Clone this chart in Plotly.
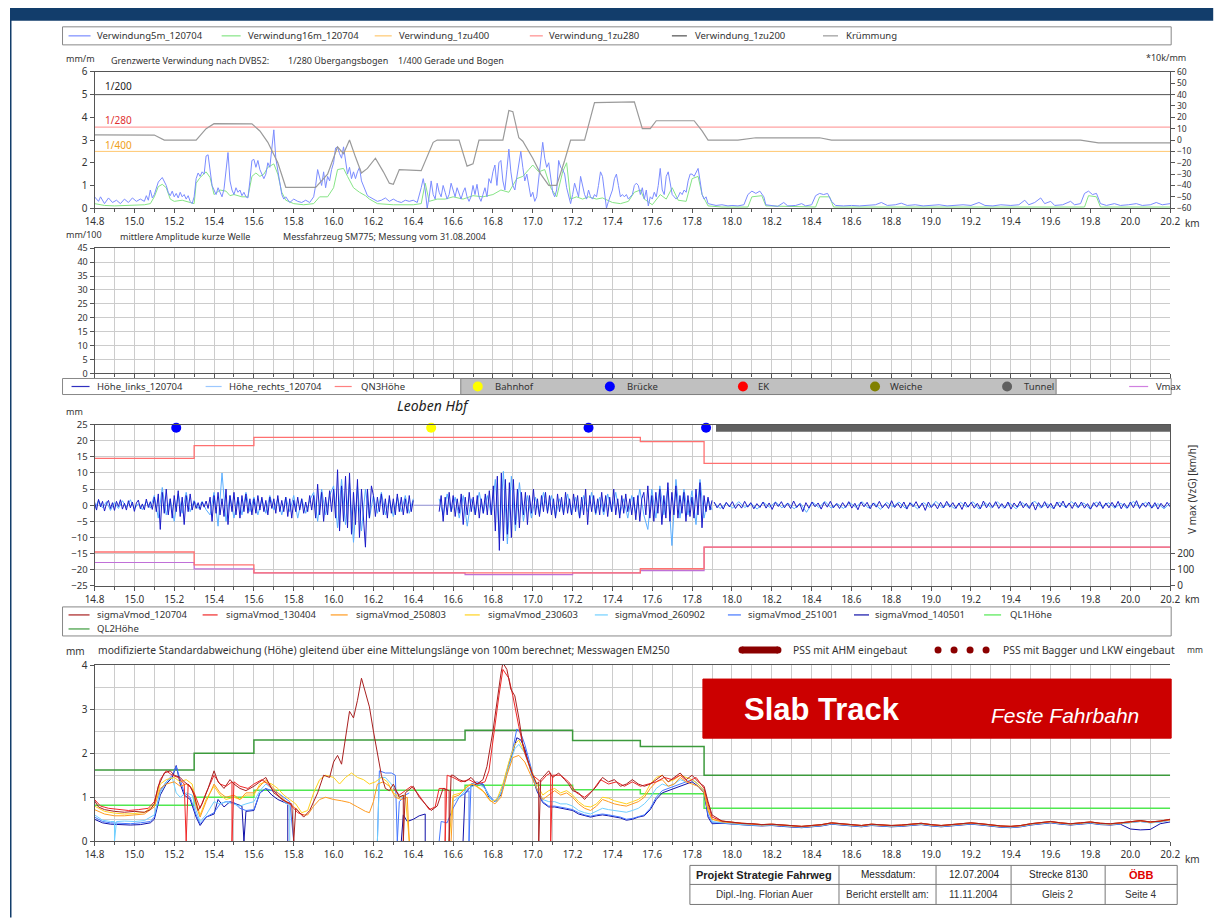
import plotly.graph_objects as go

# Page is shown with a small frame: picture = 0.983 * page + (9.5, 7.2). Positions below are
# given in picture pixels of the reference and mapped back to page pixels.
W, H = 1218, 923
SC, BX, BY = 0.983, 9.5, 7.2
def px(x): return ((x - BX) / SC) / W
def py(y): return 1 - ((y - BY) / SC) / H

FONT = "Noto Sans, DejaVu Sans, sans-serif"
ARIAL = "Liberation Sans, Arial, sans-serif"
AX = "#555555"
GRID = "#CCCCCC"
TXT = "#333333"

# ---------------- DATA ----------------
# Panel 1: Verwindung (mm/m) and Kruemmung (right axis)
V5_PTS = [(14.80,0.5),(14.82,0.3),(14.83,0.5),(14.85,0.2),(14.87,0.45),(14.89,0.25),(14.91,0.35),(14.93,0.2),(14.95,0.4),(14.97,0.25),
(14.99,0.45),(15.01,0.3),(15.03,0.4),(15.05,0.3),(15.06,0.55),(15.07,0.35),(15.08,0.8),(15.09,0.45),(15.10,0.6),(15.11,0.9),
(15.12,1.15),(15.14,1.35),(15.15,1.2),(15.16,1.0),(15.17,0.7),(15.18,0.55),(15.19,0.75),(15.20,0.5),(15.21,0.65),(15.22,0.45),
(15.23,0.7),(15.24,0.5),(15.25,0.6),(15.26,0.4),(15.27,0.55),(15.28,0.3),(15.29,0.2),(15.30,0.5),(15.31,1.3),(15.32,1.55),
(15.33,1.4),(15.34,1.6),(15.35,1.5),(15.36,2.3),(15.37,2.35),(15.38,1.6),(15.39,1.0),(15.40,0.8),(15.41,0.6),(15.42,0.9),
(15.43,0.7),(15.44,0.5),(15.45,0.85),(15.46,1.8),(15.47,2.45),(15.48,1.2),(15.49,0.8),(15.50,0.6),(15.51,0.9),(15.52,0.7),
(15.53,0.8),(15.54,0.55),(15.55,0.7),(15.56,0.5),(15.57,0.45),(15.58,1.2),(15.59,2.1),(15.60,2.15),(15.61,1.8),(15.62,2.1),
(15.63,1.7),(15.64,1.5),(15.65,1.3),(15.66,1.5),(15.67,2.0),(15.68,1.8),(15.69,2.6),(15.70,3.45),(15.71,2.2),(15.72,1.6),
(15.73,1.0),(15.74,0.6),(15.75,0.4),(15.76,0.5),(15.78,0.25),(15.80,0.4),(15.82,0.3),(15.84,0.25),(15.86,0.35),(15.88,0.25),
(15.90,0.5),(15.91,1.0),(15.92,1.7),(15.93,1.3),(15.94,1.0),(15.95,1.6),(15.96,0.9),(15.97,1.4),(15.98,1.2),(15.99,1.7),
(16.00,2.0),(16.01,2.65),(16.02,2.7),(16.03,2.4),(16.04,2.2),(16.05,2.7),(16.06,2.0),(16.07,1.5),(16.08,1.8),(16.09,1.3),
(16.10,1.6),(16.11,1.3),(16.12,1.6),(16.13,1.8),(16.14,1.2),(16.15,1.0),(16.16,0.8),(16.17,0.55),(16.18,0.5),(16.20,0.4),
(16.22,0.3),(16.24,0.35),(16.26,0.45),(16.28,0.3),(16.30,0.4),(16.32,0.3),(16.34,0.25),(16.36,0.35),(16.38,0.3),(16.40,0.35),
(16.42,0.25),(16.44,0.9),(16.45,1.3),(16.46,0.8),(16.47,0.0),(16.48,0.5),(16.49,1.2),(16.50,0.6),(16.51,0.4),(16.52,1.1),
(16.53,0.7),(16.54,0.5),(16.55,1.0),(16.56,0.7),(16.57,0.4),(16.58,0.6),(16.59,1.1),(16.60,0.8),(16.61,0.5),(16.62,0.9),
(16.63,0.6),(16.64,0.4),(16.65,0.7),(16.66,0.9),(16.67,0.5),(16.68,0.3),(16.69,0.5),(16.70,1.0),(16.71,0.6),(16.72,1.05),
(16.73,0.5),(16.74,0.3),(16.75,0.6),(16.76,0.9),(16.77,0.5),(16.78,1.3),(16.79,1.1),(16.80,1.6),(16.81,1.9),(16.82,1.0),
(16.83,2.0),(16.84,2.1),(16.85,1.2),(16.86,0.8),(16.87,1.7),(16.88,2.6),(16.89,1.6),(16.90,1.0),(16.91,0.8),(16.92,1.4),
(16.93,1.9),(16.94,2.5),(16.95,1.8),(16.96,1.2),(16.97,1.5),(16.98,0.9),(16.99,0.5),(17.00,0.7),(17.01,0.3),(17.02,0.5),
(17.03,1.3),(17.04,2.0),(17.05,2.9),(17.06,2.2),(17.07,1.8),(17.08,2.0),(17.09,1.2),(17.10,0.7),(17.11,0.5),(17.12,0.8),
(17.13,2.1),(17.14,1.8),(17.15,1.7),(17.16,1.5),(17.17,0.9),(17.18,0.5),(17.19,0.2),(17.20,0.6),(17.21,1.1),(17.22,0.8),
(17.23,0.5),(17.24,1.4),(17.25,1.0),(17.26,0.6),(17.27,0.4),(17.28,0.8),(17.29,0.5),(17.30,0.4),(17.31,0.6),(17.32,0.5),
(17.33,1.0),(17.34,1.6),(17.35,1.4),(17.36,0.7),(17.37,0.0),(17.38,0.3),(17.39,0.6),(17.40,0.8),(17.41,1.3),(17.42,1.5),
(17.43,1.0),(17.44,0.5),(17.45,0.6),(17.46,0.5),(17.47,0.6),(17.48,0.4),(17.50,0.6),(17.51,1.0),(17.52,1.1),(17.53,1.0),
(17.54,0.6),(17.55,0.9),(17.56,0.4),(17.57,0.8),(17.58,0.1),(17.59,0.5),(17.60,0.4),(17.61,0.7),(17.62,0.5),(17.63,1.0),
(17.64,1.75),(17.65,0.8),(17.66,0.6),(17.67,1.4),(17.68,1.6),(17.69,1.1),(17.70,0.6),(17.71,0.5),(17.72,0.4),(17.73,0.5),
(17.74,0.7),(17.75,0.6),(17.76,0.8),(17.77,0.7),(17.78,1.2),(17.79,1.5),(17.80,1.5),(17.81,1.4),(17.82,1.6),(17.83,1.75),
(17.84,1.2),(17.85,0.6),(17.86,0.4),(17.87,0.5),(17.88,0.2),(17.90,0.15),
(17.92,0.12),(17.95,0.15),(17.98,0.1),(18.00,0.12),(18.03,0.1),(18.06,0.15),(18.08,0.6),(18.10,0.75),(18.12,0.65),(18.14,0.75),
(18.16,0.5),(18.17,0.15),(18.20,0.1),(18.23,0.08),(18.26,0.25),(18.28,0.1),(18.32,0.12),(18.35,0.2),(18.37,0.1),(18.40,0.15),
(18.42,0.55),(18.44,0.65),(18.46,0.6),(18.48,0.65),(18.50,0.3),(18.52,0.12),(18.56,0.1),(18.60,0.12),(18.64,0.1),(18.68,0.12),
(18.72,0.15),(18.75,0.25),(18.78,0.12),(18.82,0.15),(18.85,0.22),(18.88,0.12),(18.92,0.15),(18.96,0.1),(19.00,0.12),(19.04,0.15),
(19.08,0.1),(19.12,0.12),(19.16,0.15),(19.20,0.12),(19.24,0.25),(19.27,0.12),(19.31,0.1),(19.35,0.15),(19.40,0.12),(19.44,0.15),
(19.47,0.35),(19.49,0.15),(19.52,0.25),(19.55,0.45),(19.57,0.2),(19.60,0.3),(19.62,0.12),(19.66,0.15),(19.70,0.3),(19.72,0.15),
(19.75,0.2),(19.77,0.65),(19.79,0.75),(19.81,0.6),(19.83,0.65),(19.85,0.2),(19.88,0.12),(19.92,0.2),(19.95,0.12),(19.99,0.15),
(20.03,0.2),(20.06,0.12),(20.10,0.15),(20.13,0.25),(20.16,0.15),(20.20,0.2)]

V16_PTS = [(14.80,0.2),(14.85,0.12),(14.90,0.1),(14.95,0.12),(15.00,0.12),(15.05,0.15),(15.08,0.2),(15.10,0.5),(15.12,0.95),(15.14,1.05),
(15.16,0.9),(15.18,0.4),(15.20,0.3),(15.24,0.35),(15.28,0.25),(15.30,0.2),(15.31,1.1),(15.33,1.35),(15.36,1.6),(15.38,1.35),
(15.40,0.6),(15.43,0.8),(15.46,0.75),(15.48,0.55),(15.50,0.6),(15.54,0.5),(15.57,0.5),(15.59,1.4),(15.61,1.55),(15.63,1.4),
(15.65,1.5),(15.67,1.8),(15.70,1.95),(15.72,1.5),(15.74,0.7),(15.76,0.35),(15.80,0.2),(15.85,0.15),(15.90,0.2),(15.93,0.5),
(15.97,0.5),(16.00,0.9),(16.02,1.7),(16.05,1.75),(16.07,1.4),(16.10,0.9),(16.13,0.7),(16.16,0.55),(16.18,0.4),(16.22,0.2),
(16.30,0.15),(16.40,0.15),(16.44,0.2),(16.46,1.1),(16.48,0.3),(16.52,0.4),(16.56,0.4),(16.60,0.5),(16.65,0.4),(16.70,0.55),
(16.75,0.5),(16.80,0.6),(16.84,0.8),(16.88,0.7),(16.92,1.3),(16.95,1.4),(16.98,1.7),(17.00,1.9),(17.03,1.6),(17.06,1.7),
(17.09,0.9),(17.12,0.5),(17.15,1.6),(17.17,2.0),(17.19,0.4),(17.22,0.5),(17.25,0.4),(17.28,0.5),(17.32,0.4),(17.35,0.45),
(17.40,0.25),(17.44,0.2),(17.48,0.3),(17.51,0.7),(17.54,0.8),(17.56,0.4),(17.60,0.15),(17.64,0.6),(17.67,0.4),(17.70,0.9),
(17.73,0.35),(17.77,0.3),(17.80,1.3),(17.83,1.4),(17.85,0.6),(17.88,0.1),(17.95,0.05),(18.08,0.05),(18.10,0.5),(18.15,0.55),
(18.17,0.1),(18.42,0.05),(18.44,0.5),(18.49,0.5),(18.51,0.05),(19.77,0.05),(19.79,0.55),(19.83,0.5),(19.85,0.05),(20.20,0.05)]

KR_PTS = [(14.80,4.5),(15.10,4.4),(15.15,0),(15.31,0),(15.36,10),(15.40,14.4),(15.59,14.2),(15.63,8),(15.67,-2),(15.72,-20),
(15.76,-41.6),(15.91,-41.6),(15.97,-30),(16.02,-6),(16.05,-12),(16.08,0),(16.11,-15),(16.14,-29),(16.17,-25),(16.21,-16),
(16.25,-28),(16.28,-38),(16.30,-39),(16.33,-26),(16.44,-27),(16.50,-2),(16.52,0),(16.63,0),(16.67,-23),(16.70,-21),
(16.73,0),(16.85,0),(16.88,26),(16.90,25),(16.93,2),(16.95,-1),(17.00,-16),(17.04,-30),(17.08,-40),(17.12,-40),
(17.16,-18),(17.19,0),(17.26,0),(17.31,33),(17.51,33.6),(17.55,10),(17.59,10),(17.62,17),(17.81,17),(17.85,8),
(17.88,0),(18.03,0),(18.12,2),(18.44,2),(18.50,0),(19.75,0),(19.84,-2.5),(20.20,-2.5)]

LIM_1ZU400 = 2.5
LIM_1ZU280 = 3.57
LIM_1ZU200 = 5.0

# Panel 3: Hoehe (mm), QN3 limits, Vmax (km/h)
HL_A = [1,-1.5,1.8,-0.5,1.2,-1.8,0.5,1.5,-1,0.8,-1.6,1.2,-0.4,1.7,-1.2,0.6,-1.5,1.4,-0.8,1.0,-1.9,0.7,1.6,-1.1,0.4,-1.4,1.9,-0.7,1.1,-1.3,
2.5,-2,3.5,-7.5,4,-2.5,5,-3,2,-4,3,-2,4.5,-3.5,2.5,-6,3,-2,3.5,-1.5,
1.2,-1,0.8,-1.4,1,-0.6,1.3,-1,
2.5,-5,3,-2.5,4,-3,2,-3.5,5,-6,3,-2,4,-3,2.5,-4,3,-2,3.5,-2.5,2,-3,
2,-2.5,3,-1.5,2.5,-2,1.5,-3,2.5,-1,2,-2.5,3,-2,1.5,-2,2.5,-3.5,2,-4,1.5,-2,2.5,-1.5,2,-2.5,1,-2,3,-1.5,
3,-4,6.5,-3,4,-5,2.5,-3,4.5,-2,
5,-4,11,-8,6,-5,9,-7,10,-9,4,-6,8,-10,5,-3,-13,5,-4,6,
3,-3.5,2.5,-2,3.5,-3,2,-4,3,-2.5,2,-3,3.5,-2,2.5,-3,2,-2.5,3,-2,1.5]
HL_B = [-2,3,-5,2.5,-3,4,-2,3,-3.5,2,-2.5,3.5,-6,2.5,-3,4,-2,2.5,-3,3,-4,2,-2.5,3.5,-3,4.5,-3,
6,-8,9,-14,10,-11,8,-9,7,-10,8,-6,5,-7,4,
-3,4,-6,3,-2.5,5,-3,2,-3.5,3,-2,4,-2.5,3,-3,2,-4,3.5,-2,2.5,-3,4,-2.5,2,-3,3.5,-2,3,-4,2.5,-3,5,-6,3,-2,
3,-2.5,2,-3,4,-2,3,-3.5,2.5,-2,5,-3,2,-4,3,-2.5,3.5,-2,2,-3,2.5,-4.5,3,-5,2,
4,-3,6,-4,3,-5,4,-2.5,5,-6,3,-4,7,-5,4,-3,6,-4,3,-2.5,4,-5,3,-3.5,2.5,-4,5,-3,7,-7,3,-2,2.5,-1.5,1.5]
HL_C = [1.0,-0.8,0.6,-1.2,0.9,-0.5,1.1,-1.0,0.4,-0.9, 1.2,-0.6,0.8,-1.1,0.5,-0.7,1.0,-0.9,0.7,-1.3,
0.9,-0.4,1.1,-0.8,0.6,-1.0,1.3,-0.7,0.5,-2.0, 0.8,-0.9,1.0,-0.5,0.7,-1.2,0.9,-0.6,1.2,-0.8,
0.5,-1.0,0.8,-0.7,1.1,-0.9,0.6,-1.4,1.0,-0.5, 0.9,-1.1,0.7,-0.6,1.2,-0.8,0.5,-1.0,1.4,-0.7,
0.6,-0.9,1.0,-1.2,0.8,-0.5,1.1,-0.9,0.7,-1.6, 1.0,-0.7,0.5,-1.1,0.9,-0.8,1.2,-0.6,0.8,-1.0,
0.7,-1.3,1.0,-0.6,0.9,-0.9,0.6,-1.1,1.3,-0.8, 0.8,-0.7,1.1,-1.0,0.5,-0.9,1.0,-1.2,0.7,-0.6,
1.2,-0.8,0.6,-1.0,0.9,-1.5,0.8,-0.7,1.1,-0.9, 0.6,-1.1,1.0,-0.6,1.3,-0.8,0.7,-1.0,0.9,-0.7,
1.0,-0.9,0.5,-1.2,0.8,-0.6,1.1,-1.0,0.7,-0.8, 0.9,-0.7,1.2,-1.1,0.6,-0.9,1.0,-0.8,1.4,-1.0,
0.7,-0.6,1.0,-0.9,0.8,-1.2,0.6,-0.7,0.9,-0.5]
HR_A = [-1.2,1.5,-0.8,1.1,-1.6,0.9,-1.0,1.4,-0.6,1.7,-1.1,0.5,-1.4,1.2,-0.9,
3,-4,5.5,-3,2,-5,3.5,-2.5,4,-2,
1.5,-1,1.2,-1.4,
-3,4,-6.5,10,-5,3,-4,2.5,-3,4,-2,
2.5,-3,2,-2.5,3,-1.5,2,-3,2.5,-2,3,-4,2,-2.5,1.5,
4,-5,5,-3,3,
6,-7,8,-6,7,-11.5,6,-8,5,-4,
3,-2.5,4,-3,2,-3.5,2.5,-2,3,-2.5,2]
HR_B = [2,-3,3.5,-2,2.5,-4,3,-6.5,2,-3,4,-2.5,3,-3,
8,-10,10.5,-12,9,-8,7,-5,
3,-4,2.5,-3,4,-2,3,-3.5,2,-2.5,3.5,-3,2.5,-4,3,-2,4,-3,
2.5,-3,3.5,-2,4,-3,2,-4,3,-2.5,5,-3,
-7.5,5,-4,6,-3,5.5,-12.5,8,-4,5,-3,4.5,-6,8,-4,2,-1.5]
HR_C = [0.8,-1.0,0.6,-0.9,1.1,-0.7,0.5,-1.2,0.9,-0.6, 1.0,-0.8,0.7,-1.1,0.6,-2.2,0.9,-0.7,1.2,-0.9,
0.5,-1.0,0.8,-0.6,1.1,-0.8,0.7,-1.3,0.9,-0.5, 1.0,-0.9,0.6,-1.1,0.8,-0.7,1.2,-0.8,0.5,-1.0,
0.9,-0.6,1.1,-1.2,0.7,-0.8,1.0,-0.9,0.6,-1.1, 0.8,-0.7,1.3,-0.9,0.5,-1.0,0.9,-0.6,1.1,-0.8,
0.7,-1.2,1.0,-0.5,0.8,-0.9,0.6,-1.0,1.2,-0.7, 0.9,-0.8,0.5,-1.1,0.7]
SEG_A = (14.80, 16.40)
SEG_B = (16.53, 17.90)
SEG_C = (17.91, 20.20)
GAP_KM = [16.40, 16.53]
GAP_VAL = [0, 0]

STEP_KM = [14.8, 15.3, 15.6, 16.66, 17.2, 17.54, 17.86, 20.2]
QN3_UP = [14.5, 18.5, 21, 21, 21, 19.7, 13, 13]
QN3_LO = [-14.5, -18.5, -21, -21, -21, -19.7, -13, -13]
VMAX = [145, 105, 80, 70, 80, 95, 240, 240]
QL1 = [0.82, 1.0, 1.16, 1.27, 1.17, 1.08, 0.75, 0.75]
QL2 = [1.62, 2.0, 2.3, 2.52, 2.29, 2.15, 1.5, 1.5]

BRUECKE_KM = [15.21, 17.28, 17.87]
BAHNHOF_KM = [16.49]
MARK_Y = 24
TUNNEL_KM = [17.92, 20.2]

# Panel 4: sigmaVmod (mm)
S120704 = [(14.80,0.92),(14.82,0.78),(14.85,0.72),(14.90,0.68),(14.95,0.66),(15.00,0.68),(15.05,0.66),(15.08,0.72),(15.10,0.85),(15.12,1.25),
(15.15,1.55),(15.18,1.6),(15.20,1.5),(15.23,1.45),(15.25,1.35),(15.28,1.25),(15.30,1.05),(15.32,0.7),(15.34,0.85),(15.37,1.2),
(15.40,1.6),(15.42,1.35),(15.45,1.2),(15.48,1.4),(15.50,1.3),(15.53,1.2),(15.56,1.15),(15.60,1.25),(15.63,1.35),(15.66,1.45),
(15.70,1.1),(15.73,1.0),(15.76,0.9),(15.79,0.85),(15.80,0),(15.81,0.75),(15.83,0.65),(15.85,0.55),(15.88,0.7),(15.92,1.1),(15.95,1.5),
(15.98,1.45),(16.00,1.8),(16.02,1.95),(16.04,1.75),(16.06,2.4),(16.08,2.95),(16.10,2.8),(16.12,3.2),(16.14,3.7),(16.16,3.4),
(16.18,3.05),(16.20,2.5),(16.22,2.0),(16.24,1.5),(16.26,1.2),(16.28,1.15),(16.30,1.3),(16.33,1.0),(16.35,1.05),(16.35,0),(16.36,1.1),
(16.40,1.25),(16.43,1.0),(16.46,0.85),(16.49,0.7),(16.52,0.8),(16.55,1.2),(16.58,1.15),(16.58,0),(16.59,1.5),(16.60,1.5),(16.63,1.4),
(16.66,1.35),(16.69,1.45),(16.72,1.3),(16.75,1.4),(16.77,1.7),(16.80,2.5),(16.82,3.2),(16.84,3.8),(16.85,4.05),(16.87,3.9),
(16.89,3.45),(16.91,3.3),(16.93,2.8),(16.95,2.2),(16.97,1.9),(17.00,1.5),(17.02,1.3),(17.03,1.35),(17.03,0),(17.04,1.4),(17.05,1.45),(17.08,1.6),
(17.10,1.45),(17.13,1.55),(17.16,1.4),(17.18,1.3),(17.20,1.15),(17.23,1.1),(17.26,0.95),(17.29,1.1),(17.32,1.25),(17.35,1.45),
(17.38,1.35),(17.41,1.4),(17.44,1.25),(17.47,1.3),(17.50,1.4),(17.53,1.3),(17.56,1.25),(17.59,1.3),(17.62,1.4),(17.65,1.5),
(17.68,1.35),(17.71,1.45),(17.74,1.55),(17.77,1.4),(17.80,1.5),(17.83,1.35),(17.86,1.25),(17.88,0.9),(17.90,0.6)]
S130404 = [(14.80,0.95),(14.83,0.8),(14.87,0.75),(14.92,0.72),(14.97,0.7),(15.02,0.72),(15.07,0.75),(15.10,0.9),(15.13,1.4),(15.16,1.6),
(15.19,1.5),(15.22,1.45),(15.25,1.3),(15.26,0),(15.27,1.3),(15.30,1.1),(15.33,0.75),(15.36,1.1),(15.40,1.5),(15.43,1.3),
(15.46,1.25),(15.49,1.35),(15.49,0),(15.50,1.35),(15.53,1.25),(15.57,1.2),(15.60,1.3),(15.64,1.4),(15.67,1.3),(15.70,1.15),
(15.74,0.95),(15.78,0.85),(15.82,0.65),(15.85,0.6),None,(16.30,1.2),(16.33,1.05),(16.36,1.15),(16.39,1.25),(16.42,1.1),
(16.45,0.9),(16.48,0.72),(16.51,0.78),(16.53,1.2),(16.56,1.2),(16.56,0),(16.57,1.5),(16.60,1.45),(16.64,1.35),(16.68,1.4),
(16.72,1.3),(16.76,1.35),(16.78,1.6),(16.80,2.3),(16.83,3.3),(16.85,3.9),(16.88,3.7),(16.90,3.3),(16.93,2.6),(16.96,2.0),
(17.00,1.5),(17.04,1.35),(17.07,1.5),(17.09,1.55),(17.09,0),(17.10,1.5),(17.14,1.5),(17.18,1.35),(17.22,1.1),(17.26,1.0),
(17.30,1.15),(17.34,1.4),(17.38,1.3),(17.42,1.35),(17.46,1.25),(17.50,1.35),(17.54,1.25),(17.58,1.3),(17.62,1.35),(17.66,1.45),
(17.70,1.4),(17.74,1.5),(17.78,1.35),(17.82,1.45),(17.86,1.2),(17.88,0.85),(17.90,0.55)]
S250803 = [(14.80,0.72),(14.85,0.62),(14.90,0.58),(14.95,0.58),(15.00,0.6),(15.05,0.62),(15.10,0.78),(15.13,1.2),(15.16,1.3),(15.20,1.35),
(15.23,1.25),(15.26,1.3),(15.29,1.2),(15.31,0.8),(15.33,0.55),(15.36,0.9),(15.40,1.3),(15.43,1.1),(15.46,1.0),(15.50,1.05),
(15.53,0.95),(15.56,1.1),(15.60,1.1),(15.63,1.25),(15.66,1.4),(15.69,1.25),(15.72,1.1),(15.75,0.95),(15.78,0.85),(15.81,0.75),
(15.84,0.6),(15.87,0.6),(15.90,0.8),(15.93,0.95),(15.96,1.0),(16.00,0.95),(16.04,0.92),(16.08,0.88),(16.12,0.78),(16.16,0.68),
(16.18,0.65),(16.20,0.9),(16.22,1.3),(16.25,1.35),(16.28,1.25),(16.31,1.0),(16.34,0.95),(16.37,1.0),(16.38,0),None,
(16.59,0),(16.60,1.0),(16.63,1.05),(16.66,1.2),(16.69,1.3),(16.72,1.25),(16.75,1.15),(16.78,0.95),(16.81,0.85),(16.84,1.0),
(16.87,1.5),(16.90,1.9),(16.93,1.95),(16.96,1.8),(16.99,1.5),(17.02,1.2),(17.05,0.95),(17.08,1.05),(17.11,1.15),(17.14,1.05),
(17.17,1.1),(17.20,1.0),(17.23,0.85),(17.26,0.75),(17.29,0.7),(17.32,0.8),(17.35,0.95),(17.38,0.9),(17.41,0.85),(17.44,0.82),
(17.47,0.8),(17.50,0.85),(17.53,0.9),(17.56,1.0),(17.59,1.2),(17.62,1.35),(17.65,1.4),(17.68,1.25),(17.71,1.3),(17.74,1.45),
(17.77,1.35),(17.80,1.3),(17.83,1.25),(17.86,1.1),(17.88,0.7),(17.90,0.5)]
S230603 = [(14.80,0.8),(14.85,0.68),(14.90,0.64),(14.95,0.62),(15.00,0.63),(15.05,0.66),(15.10,0.82),(15.13,1.3),(15.16,1.4),(15.20,1.45),
(15.23,1.35),(15.26,1.4),(15.29,1.3),(15.31,0.9),(15.33,0.6),(15.36,0.95),(15.40,1.25),(15.43,1.05),(15.46,0.95),(15.50,1.0),
(15.53,0.95),(15.56,1.05),(15.60,1.05),(15.63,1.3),(15.66,1.35),(15.69,1.3),(15.72,1.2),(15.75,1.05),(15.78,0.95),(15.81,0.85),
(15.84,0.65),(15.87,0.7),(15.90,1.1),(15.93,1.4),(15.96,1.5),(16.00,1.45),(16.03,1.3),(16.06,1.45),(16.09,1.55),(16.12,1.45),
(16.15,1.4),(16.18,1.3),(16.21,1.35),(16.24,1.45),(16.27,1.35),(16.30,1.1),(16.33,1.0),(16.36,1.05),(16.38,0),None,
(16.58,0),(16.60,1.05),(16.64,1.1),(16.67,1.25),(16.70,1.3),(16.73,1.2),(16.76,1.1),(16.79,0.9),(16.82,0.95),(16.85,1.3),
(16.88,1.8),(16.91,2.2),(16.93,2.3),(16.96,2.0),(16.99,1.65),(17.02,1.3),(17.05,1.05),(17.08,1.15),(17.11,1.2),(17.14,1.1),
(17.17,1.15),(17.20,1.05),(17.23,0.9),(17.26,0.8),(17.29,0.78),(17.32,0.85),(17.35,1.0),(17.38,0.98),(17.41,0.92),(17.44,0.88),
(17.47,0.85),(17.50,0.9),(17.53,0.95),(17.56,1.05),(17.59,1.3),(17.62,1.45),(17.65,1.5),(17.68,1.35),(17.71,1.4),(17.74,1.5),
(17.77,1.45),(17.80,1.4),(17.83,1.3),(17.86,1.15),(17.88,0.75),(17.90,0.5)]
S260902 = [(14.80,0.6),(14.84,0.48),(14.88,0.45),(14.90,0.45),(14.90,0),(14.91,0.45),(14.95,0.46),(15.00,0.45),(15.05,0.47),(15.10,0.6),
(15.13,1.1),(15.16,1.35),(15.19,1.45),(15.21,1.1),(15.23,1.0),(15.26,1.1),(15.29,1.05),(15.31,0.7),(15.33,0.45),(15.36,0.6),
(15.40,0.9),(15.43,0.85),(15.46,0.9),(15.50,0.85),(15.53,0.8),(15.56,0.85),(15.60,0.9),(15.63,1.15),(15.66,1.3),(15.69,1.2),
(15.72,1.05),(15.75,0.9),(15.78,0.8),(15.78,0),None,(16.22,0),(16.23,1.45),(16.26,1.45),(16.29,1.3),(16.32,1.1),(16.34,1.0),
(16.36,0.95),None,(16.60,0.9),(16.64,1.05),(16.67,1.2),(16.70,1.25),(16.73,1.3),(16.76,1.2),(16.79,0.95),(16.82,0.9),(16.85,1.2),
(16.88,1.7),(16.91,2.1),(16.93,2.2),(16.96,2.0),(16.99,1.6),(17.02,1.2),(17.05,0.95),(17.08,0.9),(17.11,0.9),(17.14,0.85),
(17.17,0.85),(17.20,0.8),(17.23,0.7),(17.26,0.65),(17.29,0.62),(17.32,0.68),(17.35,0.75),(17.38,0.72),(17.41,0.7),(17.44,0.68),
(17.47,0.66),(17.50,0.7),(17.53,0.75),(17.56,0.85),(17.59,1.0),(17.62,1.2),(17.65,1.3),(17.68,1.25),(17.71,1.3),(17.74,1.4),
(17.77,1.35),(17.80,1.4),(17.83,1.3),(17.86,1.15),(17.88,0.7),(17.90,0.45)]
S251001 = [(14.80,0.55),(14.84,0.45),(14.88,0.42),(14.93,0.41),(14.98,0.4),(15.03,0.42),(15.08,0.45),(15.10,0.55),(15.13,1.15),(15.16,1.35),
(15.19,1.5),(15.21,1.7),(15.23,1.4),(15.25,1.1),(15.28,1.0),(15.31,0.6),(15.33,0.4),(15.36,0.55),(15.40,0.65),(15.43,0.85),
(15.46,0.9),(15.50,0.88),(15.53,0.75),(15.56,0.7),(15.60,0.72),(15.63,1.1),(15.66,1.2),(15.69,1.15),(15.72,1.1),(15.75,1.0),
(15.78,0.9),(15.80,0),None,(16.22,0),(16.23,1.6),(16.26,1.55),(16.29,1.55),(16.31,1.5),(16.32,0),(16.33,0.9),(16.36,1.05),
(16.38,1.1),None,(16.53,0),(16.54,0.45),(16.57,0.42),(16.60,0.75),(16.63,1.0),(16.66,1.1),(16.68,1.15),(16.68,0),(16.69,1.3),
(16.72,1.35),(16.75,1.3),(16.78,1.05),(16.81,0.9),(16.84,1.1),(16.87,1.6),(16.90,2.1),(16.92,2.55),(16.94,2.45),(16.96,2.2),
(16.99,1.7),(17.02,1.2),(17.05,0.9),(17.08,0.8),(17.11,0.8),(17.14,0.78),(17.17,0.75),(17.20,0.72),(17.23,0.65),(17.26,0.6),
(17.29,0.57),(17.32,0.6),(17.35,0.62),(17.38,0.6),(17.41,0.58),(17.44,0.55),(17.47,0.5),(17.50,0.52),(17.53,0.56),(17.56,0.6),
(17.59,0.75),(17.62,1.0),(17.65,1.15),(17.68,1.2),(17.71,1.25),(17.74,1.3),(17.77,1.35),(17.80,1.4),(17.83,1.3),(17.86,1.15),
(17.88,0.6),(17.90,0.42)]
S140501 = [(14.80,0.5),(14.84,0.42),(14.88,0.39),(14.93,0.38),(14.98,0.37),(15.03,0.38),(15.08,0.42),(15.10,0.5),(15.13,1.05),(15.16,1.3),
(15.19,1.45),(15.21,1.72),(15.23,1.3),(15.25,1.05),(15.28,0.95),(15.31,0.55),(15.33,0.36),(15.36,0.55),(15.40,0.62),(15.42,0.95),
(15.45,0.78),(15.48,0.9),(15.51,0.85),(15.54,0.8),(15.55,0),(15.56,0.68),(15.60,0.7),(15.63,1.1),(15.66,1.2),(15.69,1.05),
(15.72,0.95),(15.75,0.9),(15.77,0.85),(15.77,0),None,(16.34,0),(16.35,0.6),(16.37,0.45),(16.40,0.5),(16.43,0.58),(16.46,0.62),
(16.46,0),None,(16.65,0),(16.66,1.1),(16.69,1.25),(16.72,1.3),(16.75,1.3),(16.78,1.0),(16.81,0.9),(16.84,1.05),(16.87,1.55),
(16.90,2.0),(16.92,2.35),(16.94,2.3),(16.96,2.1),(16.99,1.6),(17.02,1.15),(17.05,0.88),(17.08,0.78),(17.11,0.78),(17.14,0.75),
(17.17,0.72),(17.20,0.7),(17.23,0.62),(17.26,0.58),(17.29,0.55),(17.32,0.58),(17.35,0.6),(17.38,0.58),(17.41,0.56),(17.44,0.53),
(17.47,0.48),(17.50,0.5),(17.53,0.55),(17.56,0.58),(17.59,0.72),(17.62,0.95),(17.65,1.1),(17.68,1.15),(17.71,1.2),(17.74,1.25),
(17.77,1.3),(17.80,1.35),(17.83,1.25),(17.86,1.1),(17.88,0.55),(17.90,0.4)]
TAIL_KM = (17.95, 20.20)
TAIL_WARM = [0.46,0.43,0.41,0.40,0.38,0.39,0.37,0.35,0.34,0.36,0.38,0.42,0.40,0.38,0.36,0.39,0.38,0.36,0.37,0.39,0.41,0.38,0.36,
0.38,0.40,0.42,0.40,0.37,0.35,0.34,0.36,0.40,0.43,0.45,0.42,0.40,0.42,0.44,0.41,0.40,0.42,0.45,0.47,0.44,0.46,0.50]
TAIL_ORANGE = [0.44,0.42,0.40,0.38,0.37,0.38,0.36,0.34,0.33,0.35,0.37,0.41,0.39,0.37,0.35,0.38,0.37,0.35,0.36,0.38,0.40,0.37,0.35,
0.37,0.39,0.41,0.39,0.36,0.34,0.33,0.35,0.39,0.42,0.44,0.41,0.39,0.41,0.43,0.40,0.39,0.41,0.44,0.46,0.43,0.45,0.48]
TAIL_COOL = [0.42,0.40,0.38,0.37,0.36,0.37,0.35,0.33,0.32,0.34,0.36,0.40,0.38,0.36,0.34,0.37,0.36,0.34,0.35,0.37,0.39,0.36,0.34,
0.36,0.38,0.40,0.38,0.35,0.33,0.32,0.34,0.38,0.41,0.43,0.40,0.38,0.40,0.42,0.39,0.38,0.40,0.43,0.45,0.42,0.44,0.48]
TAIL_DARKBLUE = [0.41,0.39,0.37,0.36,0.35,0.36,0.34,0.32,0.31,0.33,0.35,0.39,0.37,0.35,0.33,0.36,0.35,0.33,0.34,0.36,0.38,0.35,0.33,
0.35,0.37,0.39,0.37,0.34,0.32,0.31,0.33,0.37,0.40,0.42,0.39,0.37,0.39,0.41,0.38,0.37,0.39,0.28,0.26,0.27,0.40,0.44]

XTICKS = [round(14.8 + 0.2 * i, 1) for i in range(28)]
XMINOR = [round(14.9 + 0.2 * i, 1) for i in range(27)]

# ---------------- helpers ----------------
def unzip(pts):
    xs, ys = [], []
    for p in pts:
        if p is None:
            xs.append(None); ys.append(None)
        else:
            xs.append(p[0]); ys.append(p[1])
    return xs, ys

def spread(a, b, vals):
    n = len(vals)
    return [a + (b - a) * i / (n - 1) for i in range(n)]

def with_tail(pts, tail):
    xs, ys = unzip(pts)
    return xs + spread(TAIL_KM[0], TAIL_KM[1], tail), ys + list(tail)

fig = go.Figure()

def line(x, y, color, xa, ya, width=1.0, shape='linear'):
    fig.add_trace(go.Scatter(x=x, y=y, mode='lines', xaxis=xa, yaxis=ya,
                             line=dict(color=color, width=width, shape=shape),
                             showlegend=False, hoverinfo='skip', connectgaps=False))

# Panel 1
line([14.8, 20.2], [LIM_1ZU400]*2, '#FFC870', 'x', 'y')
line([14.8, 20.2], [LIM_1ZU280]*2, '#FF8C8C', 'x', 'y')
line([14.8, 20.2], [LIM_1ZU200]*2, '#505050', 'x', 'y')
kx, ky = unzip(KR_PTS)
line(kx, ky, '#9A9A9A', 'x', 'y2', 1.2)
gx, gy = unzip(V16_PTS)
line(gx, gy, '#86E486', 'x', 'y')
bx, by = unzip(V5_PTS)
line(bx, by, '#7B8CFF', 'x', 'y')

# Panel 2: empty grid – invisible anchor trace
fig.add_trace(go.Scatter(x=[14.8], y=[0], xaxis='x2', yaxis='y3', mode='markers',
                         marker=dict(opacity=0), showlegend=False, hoverinfo='skip'))

# Panel 3 (Vmax on the base axis y6, everything in mm on overlay y5 drawn above it)
line(STEP_KM, VMAX, '#C070D8', 'x3', 'y6', 1.2, 'hv')
line(STEP_KM, QN3_UP, '#FF7070', 'x3', 'y5', 1.3, 'hv')
line(STEP_KM, QN3_LO, '#FF7070', 'x3', 'y5', 1.3, 'hv')
for seg_, vals in ((SEG_A, HR_A), (SEG_B, HR_B), (SEG_C, HR_C)):
    line(spread(seg_[0], seg_[1], vals), vals, '#5AAEFF', 'x3', 'y5', 1.0)
for seg_, vals in ((SEG_A, HL_A), (SEG_B, HL_B), (SEG_C, HL_C)):
    line(spread(seg_[0], seg_[1], vals), vals, '#1A1AC8', 'x3', 'y5', 1.0)
line(GAP_KM, GAP_VAL, '#9A9AE0', 'x3', 'y5', 1.0)
line(TUNNEL_KM, [MARK_Y]*2, '#606060', 'x3', 'y5', 8)
fig.add_trace(go.Scatter(x=BRUECKE_KM, y=[MARK_Y]*len(BRUECKE_KM), xaxis='x3', yaxis='y5', mode='markers',
                         marker=dict(color='#0000FF', size=10), showlegend=False, cliponaxis=False, hoverinfo='skip'))
fig.add_trace(go.Scatter(x=BAHNHOF_KM, y=[MARK_Y]*len(BAHNHOF_KM), xaxis='x3', yaxis='y5', mode='markers',
                         marker=dict(color='#FFFF00', size=10), showlegend=False, cliponaxis=False, hoverinfo='skip'))

# Panel 4
line(STEP_KM, QL2, '#3C9A3C', 'x4', 'y7', 1.5, 'hv')
line(STEP_KM, QL1, '#50E850', 'x4', 'y7', 1.5, 'hv')
for pts, tail, col in ((S140501, TAIL_DARKBLUE, '#1010A8'), (S251001, TAIL_COOL, '#4477FF'),
                       (S260902, TAIL_COOL, '#70CFFF'), (S230603, TAIL_WARM, '#FFD21F'),
                       (S250803, TAIL_ORANGE, '#FF9A1F'), (S130404, TAIL_WARM, '#F02828'),
                       (S120704, TAIL_WARM, '#A82020')):
    xs, ys = with_tail(pts, tail)
    line(xs, ys, col, 'x4', 'y7', 1.0)

# ---------------- axes ----------------
XD = [px(94), px(1169)]
def xax(anchor, labels=True, grid=False):
    return dict(domain=XD, anchor=anchor, range=[14.8, 20.2], tickmode='array', tickvals=XTICKS,
                ticktext=[f"{v:.1f}" for v in XTICKS], ticks='outside', ticklen=4, tickcolor=AX,
                showline=True, linecolor=AX, linewidth=1, mirror=True, showgrid=grid, gridcolor=GRID,
                zeroline=False, showticklabels=labels, tickfont=dict(family=FONT, size=10, color=TXT),
                minor=dict(tickmode='array', tickvals=XMINOR, ticks='outside', ticklen=3, tickcolor=AX,
                           showgrid=grid, gridcolor=GRID))

def yax(anchor, dom, rng, vals, grid=False, side='left', overlay=None, minor=None, size=10):
    d = dict(anchor=anchor, range=rng, tickmode='array', tickvals=vals, ticks='outside', ticklen=4,
             tickcolor=AX, showline=True, linecolor=AX, linewidth=1, showgrid=grid, gridcolor=GRID,
             zeroline=False, side=side, tickfont=dict(family=FONT, size=size, color=TXT))
    if overlay:
        d['overlaying'] = overlay
    else:
        d['domain'] = dom
    if minor is not None:
        d['minor'] = dict(tickmode='array', tickvals=minor, showgrid=grid, gridcolor=GRID, ticks='')
    return d

P1 = [py(207), py(71)]
P2 = [py(372), py(247)]
P3 = [py(584), py(423)]
P4 = [py(839), py(663)]

fig.update_layout(
    xaxis=xax('y'), yaxis=yax('x', P1, [0, 6], list(range(0, 7))),
    yaxis2=yax('x', None, [-60, 60], list(range(-60, 61, 10)), side='right', overlay='y', size=8.5),
    xaxis2=xax('y3', labels=False, grid=True),
    yaxis3=yax('x2', P2, [0, 45], list(range(0, 46, 5)), grid=True, size=9),
    yaxis4=yax('x2', None, [0, 45], list(range(0, 46, 5)), side='right', overlay='y3', size=9),
    xaxis3=xax('y6', grid=True),
    yaxis6=yax('x3', P3, [0, 1000], [0, 100, 200], side='right'),
    yaxis5=yax('x3', None, [-25, 25], list(range(-25, 26, 5)), grid=True, overlay='y6', size=9.5),
    xaxis4=xax('y7', grid=True),
    yaxis7=yax('x4', P4, [0, 4], [0, 1, 2, 3, 4], grid=True, minor=[0.5, 1.5, 2.5, 3.5]),
    yaxis8=yax('x4', None, [0, 4], [0, 1, 2, 3, 4], side='right', overlay='y7'),
)

# ---------------- decorations ----------------
shapes, anns = [], []
def ann(x, y, text, size=10, color=TXT, xanchor='left', family=FONT, angle=0):
    anns.append(dict(x=px(x), y=py(y), xref='paper', yref='paper', text=text, showarrow=False,
                     xanchor=xanchor, yanchor='middle', textangle=angle,
                     font=dict(size=size, color=color, family=family)))
def seg(x0, x1, y, color, width=1.2):
    shapes.append(dict(type='line', xref='paper', yref='paper', x0=px(x0), x1=px(x1), y0=py(y), y1=py(y),
                       line=dict(color=color, width=width)))
def rect(x0, y0, x1, y1, line='#888888', fill='rgba(0,0,0,0)', width=1, layer='above'):
    shapes.append(dict(type='rect', xref='paper', yref='paper', x0=px(x0), x1=px(x1), y0=py(y1), y1=py(y0),
                       line=dict(color=line, width=width), fillcolor=fill, layer=layer))
def dot(cx, cy, r, color):
    shapes.append(dict(type='circle', xref='paper', yref='paper', x0=px(cx - r), x1=px(cx + r),
                       y0=py(cy + r), y1=py(cy - r), line=dict(color=color, width=0), fillcolor=color))

# slide frame (navy band at the top, strip on the left)
rect(BX, BY, 1212, 20, line='#123D6B', fill='#123D6B', layer='below', width=0)
rect(BX, BY, 11, 915, line='#123D6B', fill='#123D6B', layer='below', width=0)

# legend 1
rect(62, 26, 1170, 44)
for t, c, a, b, tx in (("Verwindung5m_120704", '#7B8CFF', 68, 90, 94), ("Verwindung16m_120704", '#86E486', 221, 240, 245),
                       ("Verwindung_1zu400", '#FFC870', 374, 391, 396), ("Verwindung_1zu280", '#FF8C8C', 529, 542, 546),
                       ("Verwindung_1zu200", '#505050', 671, 686, 692), ("Krümmung", '#9A9A9A', 822, 837, 843)):
    seg(a, b, 35, c); ann(tx, 35, t, 9.5)

ann(63, 58, "mm/m", 9)
ann(108, 60, "Grenzwerte Verwindung nach DVB52:", 9)
ann(285, 60, "1/280 Übergangsbogen", 9)
ann(395, 60, "1/400 Gerade und Bogen", 9)
ann(1187, 57, "*10k/mm", 9, xanchor='right')
anns.append(dict(x=14.84, y=5.38, xref='x', yref='y', text="1/200", showarrow=False, xanchor='left',
                 font=dict(size=10, color='#222222', family=FONT)))
anns.append(dict(x=14.84, y=3.9, xref='x', yref='y', text="1/280", showarrow=False, xanchor='left',
                 font=dict(size=10, color='#E03030', family=FONT)))
anns.append(dict(x=14.84, y=2.78, xref='x', yref='y', text="1/400", showarrow=False, xanchor='left',
                 font=dict(size=10, color='#F0A020', family=FONT)))
for yy in (222, 597, 857):
    ann(1182, yy, "km", 10)

ann(63, 233, "mm/100", 9)
ann(117, 235, "mittlere Amplitude kurze Welle", 9)
ann(280, 235, "Messfahrzeug SM775; Messung vom 31.08.2004", 9)

# legend 2
rect(62, 377, 1170, 393)
rect(460, 377, 1055, 393, line='#808080', fill='#C0C0C0')
for t, c, a, b, tx in (("Höhe_links_120704", '#3030C0', 71, 89, 94), ("Höhe_rechts_120704", '#9CC8FF', 205, 221, 226),
                       ("QN3Höhe", '#FF8080', 334, 351, 358), ("Vmax", '#D080E0', 1128, 1147, 1153)):
    seg(a, b, 385, c); ann(tx, 385, t, 9.5)
for t, c, cx, tx in (("Bahnhof", '#FFFF00', 477, 492), ("Brücke", '#0000FF', 609, 624), ("EK", '#FF0000', 742, 755),
                     ("Weiche", '#808000', 874, 887), ("Tunnel", '#606060', 1006, 1021)):
    dot(cx, 385, 5, c); ann(tx, 385, t, 9.5)

ann(433, 404, "<i>Leoben Hbf</i>", 14, '#222222', xanchor='center')
ann(63, 410, "mm", 9)
ann(1190, 488, "V max (VzG) [km/h]", 10, xanchor='center', angle=-90)

# legend 3
rect(62, 605, 1170, 634)
for t, c, a, b, tx in (("sigmaVmod_120704", '#A82020', 68, 89, 94), ("sigmaVmod_130404", '#F02828', 202, 217, 223),
                       ("sigmaVmod_250803", '#FF9A1F', 330, 347, 353), ("sigmaVmod_230603", '#FFD21F', 464, 479, 485),
                       ("sigmaVmod_260902", '#70CFFF', 594, 607, 612), ("sigmaVmod_251001", '#4477FF', 727, 740, 745),
                       ("sigmaVmod_140501", '#1010A8', 853, 868, 872), ("QL1Höhe", '#50E850', 983, 1000, 1007)):
    seg(a, b, 613, c); ann(tx, 613, t, 9.5)
seg(68, 89, 627, '#3C9A3C'); ann(94, 627, "QL2Höhe", 9.5)

# title 4
ann(63, 649, "mm", 10)
ann(95, 648, "modifizierte Standardabweichung (Höhe) gleitend über eine Mittelungslänge von 100m berechnet; Messwagen EM250", 10.3)
seg(741, 777, 648, '#8B0000', 7)
dot(741, 648, 3.5, '#8B0000'); dot(777, 648, 3.5, '#8B0000')
ann(790, 648, "PSS mit AHM eingebaut", 10.3)
for cx in (937, 953, 969, 985):
    dot(cx, 648, 3.5, '#8B0000')
ann(1000, 648, "PSS mit Bagger und LKW eingebaut", 10.3)
ann(1184, 648, "mm", 8.5)

# slab track box
rect(702, 677, 1170, 736, line='#CC0000', fill='#CC0000')
ann(821, 707, "<b>Slab Track</b>", 31, 'white', xanchor='center', family=ARIAL)
ann(1064, 713, "<i>Feste Fahrbahn</i>", 21, 'white', xanchor='center', family=ARIAL)

# table
COLS = [689, 838, 935, 1010, 1104, 1176]
ROWS = [863, 882, 902]
rect(COLS[0], ROWS[0], COLS[-1], ROWS[-1], line='#777777')
seg(COLS[0], COLS[-1], ROWS[1], '#777777', 1)
for cx in COLS[1:-1]:
    shapes.append(dict(type='line', xref='paper', yref='paper', x0=px(cx), x1=px(cx), y0=py(ROWS[0]), y1=py(ROWS[-1]),
                       line=dict(color='#777777', width=1)))
ROW1 = ["<b>Projekt Strategie Fahrweg</b>", "Messdatum:", "12.07.2004", "Strecke 8130", "<b>ÖBB</b>"]
ROW2 = ["Dipl.-Ing. Florian Auer", "Bericht erstellt am:", "11.11.2004", "Gleis 2", "Seite 4"]
for i in range(5):
    cx = (COLS[i] + COLS[i + 1]) / 2
    ann(cx, (ROWS[0] + ROWS[1]) / 2, ROW1[i], 11 if i in (0, 4) else 10,
        '#E00000' if i == 4 else '#222222', xanchor='center', family=ARIAL)
    ann(cx, (ROWS[1] + ROWS[2]) / 2, ROW2[i], 10, '#333333', xanchor='center', family=ARIAL)

fig.update_layout(width=W, height=H, margin=dict(l=0, r=0, t=0, b=0), paper_bgcolor='white',
                  plot_bgcolor='white', showlegend=False, shapes=shapes, annotations=anns,
                  font=dict(family=FONT, size=10, color=TXT))

fig.write_html("out.html", config={'displayModeBar': False},
               post_script="document.body.style.margin='0';document.body.style.overflow='hidden';")
